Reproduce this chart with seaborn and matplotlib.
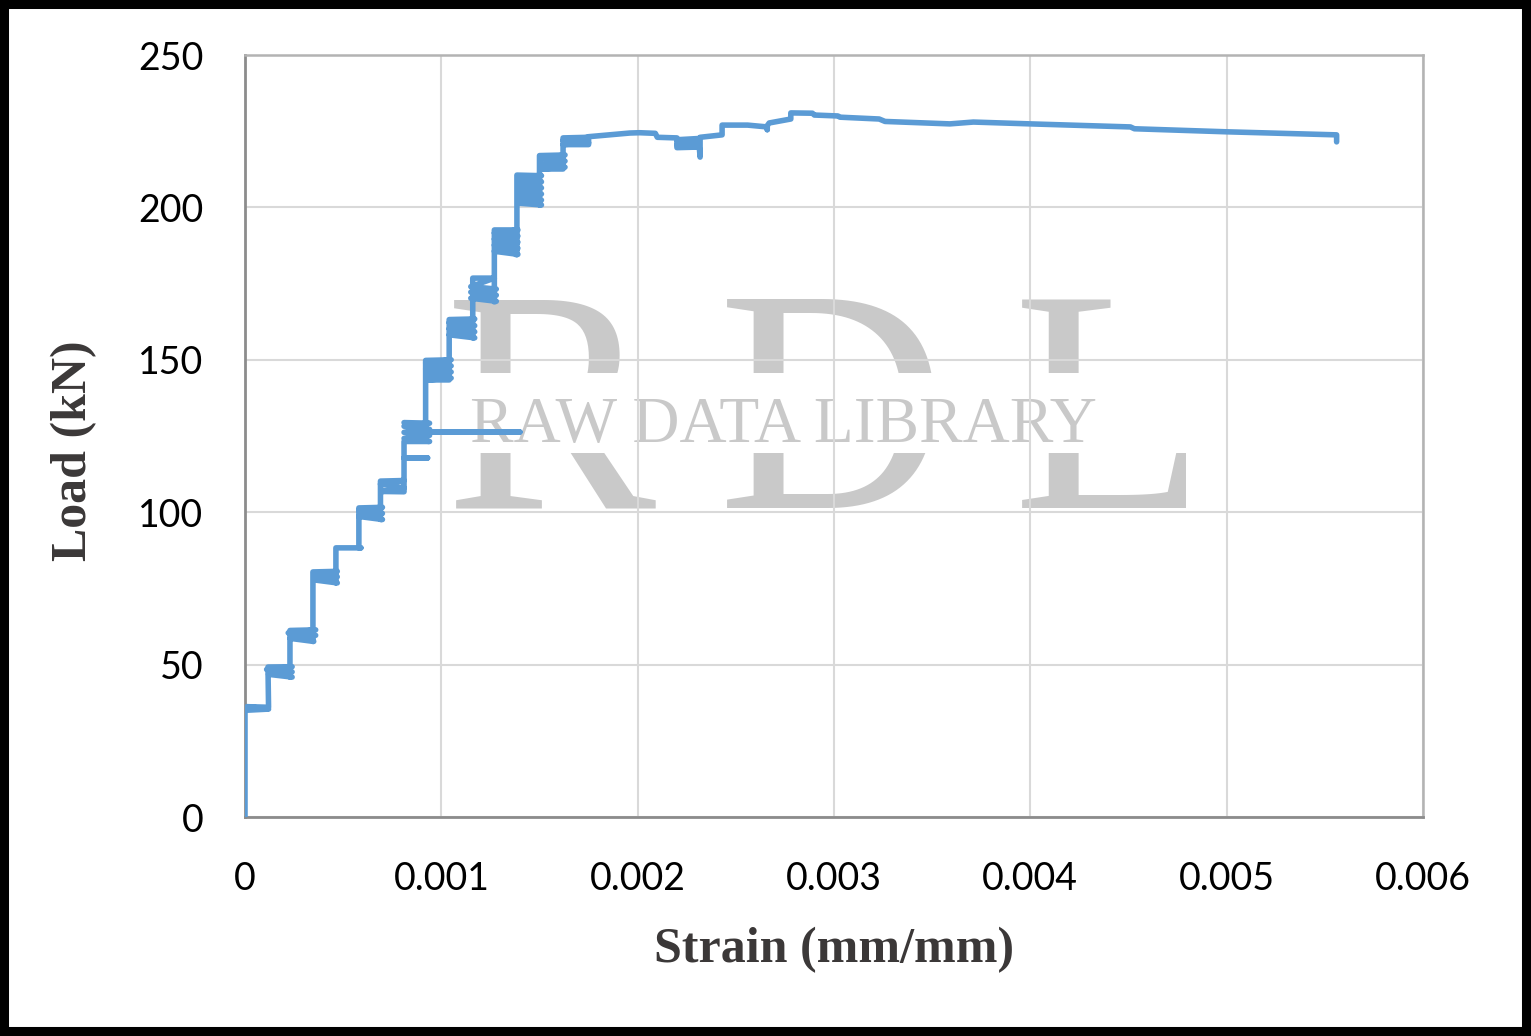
import numpy as np
import pandas as pd
import matplotlib
matplotlib.use("Agg")
import matplotlib.pyplot as plt
import seaborn as sns
from matplotlib.patches import Rectangle
from matplotlib.transforms import Bbox, TransformedBbox

# ---- data (strain in mm/mm, load in kN) ----
strain = [
    0.0, 0.0, 0.00012, 0.00001, 0.00012,
    0.000117, 0.00024, 0.00011, 0.00024, 0.00012, 0.00024,
    0.000229, 0.000229, 0.00036, 0.00022, 0.00036, 0.00023, 0.00035,
    0.000346, 0.000346, 0.00047, 0.00035, 0.00047, 0.00035, 0.00047,
    0.000463, 0.000463, 0.00059,
    0.00058, 0.00058, 0.00070, 0.00058, 0.00070, 0.00058, 0.00070,
    0.00069, 0.00069, 0.00081, 0.00069, 0.00081, 0.00070, 0.00081,
    0.00081, 0.00093, 0.00081,
    0.00081, 0.00094, 0.00081, 0.00094, 0.00081, 0.00094, 0.00081, 0.00094, 0.00081,
    0.00093, 0.00140, 0.00093,
    0.00092, 0.00092, 0.00105, 0.00092, 0.00105, 0.00092, 0.00105, 0.00093, 0.00105, 0.00093, 0.00104,
    0.00104, 0.00104, 0.00117, 0.00104, 0.00117, 0.00104, 0.00117, 0.00104, 0.00117, 0.00116,
    0.00116, 0.00116, 0.00127, 0.00115, 0.00128, 0.00115, 0.00128, 0.00115, 0.00128, 0.00127,
    0.00127, 0.00127, 0.00139, 0.00127, 0.00139, 0.00127, 0.00139, 0.00127, 0.00139, 0.00127, 0.00139, 0.00138,
    0.001385, 0.001385, 0.00151, 0.00139, 0.00151, 0.00139, 0.00151, 0.00139, 0.00151, 0.00139, 0.00151,
    0.00139, 0.00151, 0.00150,
    0.00150, 0.00150, 0.00163, 0.00151, 0.00163, 0.00151, 0.00163, 0.00151, 0.00162,
    0.00162, 0.00175, 0.00162, 0.00175, 0.00162, 0.00175, 0.00175,
    0.00196, 0.00201, 0.00209, 0.00210, 0.00220,
    0.00220, 0.00231, 0.00220, 0.00231, 0.00220, 0.00231,
    0.002318, 0.002318, 0.00243, 0.00243, 0.00256, 0.00266, 0.00266, 0.00266,
    0.00267, 0.00278, 0.00278, 0.00289, 0.00290, 0.00302, 0.00303,
    0.00323, 0.00326, 0.00359, 0.00371, 0.00400, 0.00436, 0.00451,
    0.00453, 0.00500, 0.00556, 0.00556,
]
load = [
    0.0, 35.0, 35.4, 36.2, 36.0,
    49.2, 49.3, 48.4, 47.6, 46.8, 45.9,
    45.9, 61.2, 61.4, 60.4, 59.6, 58.6, 57.6,
    57.6, 80.4, 80.6, 79.6, 78.8, 77.8, 76.8,
    76.8, 88.3, 88.3,
    88.3, 101.4, 101.6, 100.6, 99.6, 98.6, 97.6,
    97.6, 110.2, 110.4, 109.2, 108.0, 106.8, 106.7,
    117.8, 117.8, 117.8,
    123.2, 123.2, 124.2, 125.2, 126.2, 127.2, 128.2, 129.2, 129.4,
    126.3, 126.3, 126.3,
    126.3, 149.8, 150.0, 149.0, 148.0, 147.0, 146.0, 145.0, 144.0, 143.4, 143.4,
    143.4, 163.2, 163.4, 162.2, 161.2, 160.2, 159.2, 158.2, 157.2, 157.2,
    157.2, 176.8, 176.8, 174.0, 173.2, 172.2, 171.2, 170.2, 169.2, 169.0,
    169.0, 192.6, 192.6, 191.6, 190.6, 189.6, 188.6, 187.6, 186.6, 185.6, 184.6, 184.5,
    184.5, 210.6, 210.4, 209.4, 208.4, 207.4, 206.4, 205.4, 204.4, 203.4, 202.4,
    201.4, 200.8, 200.8,
    200.8, 217.0, 217.2, 216.2, 215.2, 214.2, 213.2, 212.6, 212.6,
    222.8, 223.0, 222.0, 221.2, 220.6, 220.6, 223.2,
    224.4, 224.5, 224.3, 223.0, 222.8,
    219.6, 219.8, 220.6, 221.4, 222.2, 222.6,
    216.5, 223.0, 223.8, 227.0, 227.0, 226.4, 225.5, 226.8,
    227.7, 229.0, 231.0, 230.9, 230.3, 230.0, 229.6,
    229.0, 228.2, 227.4, 228.0, 227.4, 226.7, 226.4,
    225.8, 224.8, 223.8, 221.5,
]

x_ticks = [0, 0.001, 0.002, 0.003, 0.004, 0.005, 0.006]
x_tick_labels = ["0", "0.001", "0.002", "0.003", "0.004", "0.005", "0.006"]
y_ticks = [0, 50, 100, 150, 200, 250]
y_tick_labels = ["0", "50", "100", "150", "200", "250"]

x_label = "Strain (mm/mm)"
y_label = "Load (kN)"

df = pd.DataFrame({"strain": strain, "load": load})

# ---- style ----
sns.set_style("white")
plt.rcParams["font.family"] = ["Lato", "DejaVu Sans"]

W, H = 1531, 1036
fig = plt.figure(figsize=(W / 100, H / 100), dpi=100)
fig.patch.set_facecolor("white")

L, R, T, B = 245, 1423, 55, 817
ax = fig.add_axes([L / W, 1 - B / H, (R - L) / W, (B - T) / H])

line_color = "#5b9bd5"
sns.lineplot(data=df, x="strain", y="load", sort=False, estimator=None,
             color=line_color, linewidth=4.0, ax=ax, zorder=3,
             solid_joinstyle="round", solid_capstyle="round")

ax.set_xlim(0, 0.006)
ax.set_ylim(0, 250)
ax.set_xticks(x_ticks)
ax.set_xticklabels(x_tick_labels)
ax.set_yticks(y_ticks)
ax.set_yticklabels(y_tick_labels)

ax.grid(True, color="#d9d9d9", linewidth=1.5)
ax.set_axisbelow(True)

for side in ["left", "bottom"]:
    ax.spines[side].set_color("#8c8c8c")
    ax.spines[side].set_linewidth(2.0)
for side in ["top", "right"]:
    ax.spines[side].set_color("#b3b3b3")
    ax.spines[side].set_linewidth(1.8)

ax.tick_params(axis="both", which="major", direction="out", length=10,
               width=1.6, color="#8c8c8c", labelsize=27, labelcolor="black")
ax.tick_params(axis="x", pad=22)
ax.tick_params(axis="y", pad=20)
ax.tick_params(top=False, right=False)

label_font = dict(family=["Liberation Serif", "DejaVu Serif"], weight="bold",
                  size=36, color="#3b3838")
ax.set_xlabel(x_label, **label_font)
ax.set_ylabel(y_label, **label_font)
ax.xaxis.set_label_coords(0.5, -(927 - B) / (B - T))
ax.yaxis.set_label_coords(-(L - 97) / (R - L), (B - 451) / (B - T))

# ---- watermark (big letters with a gap band for the small text) ----
wm_color = "#c9c9c9"
wm_font = ["Liberation Serif", "DejaVu Serif"]
band_top, band_bot = 373, 453  # pixel rows of the gap
clip_upper = TransformedBbox(Bbox([[0, 1 - band_top / H], [1, 1]]), fig.transFigure)
clip_lower = TransformedBbox(Bbox([[0, 0], [1, 1 - band_bot / H]]), fig.transFigure)
for ch, cx in [("R", 550), ("D", 832), ("L", 1110)]:
    for clip in (clip_upper, clip_lower):
        t = ax.text(cx / W, 1 - 508 / H, ch, transform=fig.transFigure, ha="center",
                    va="baseline", fontsize=228, family=wm_font, color=wm_color,
                    zorder=0.3)
        t.set_clip_path(None)
        t.set_clip_box(clip)
        t.set_clip_on(True)
ax.text(783 / W, 1 - 442 / H, "RAW DATA LIBRARY", transform=fig.transFigure,
        ha="center", va="baseline", fontsize=47, family=wm_font,
        color=wm_color, zorder=0.35)

# ---- black frame around the figure ----
fig.patches.append(Rectangle((0, 0), 1, 1, transform=fig.transFigure, fill=False,
                             edgecolor="black", linewidth=13, joinstyle="round"))

fig.savefig("out.png", dpi=100, facecolor="white")
